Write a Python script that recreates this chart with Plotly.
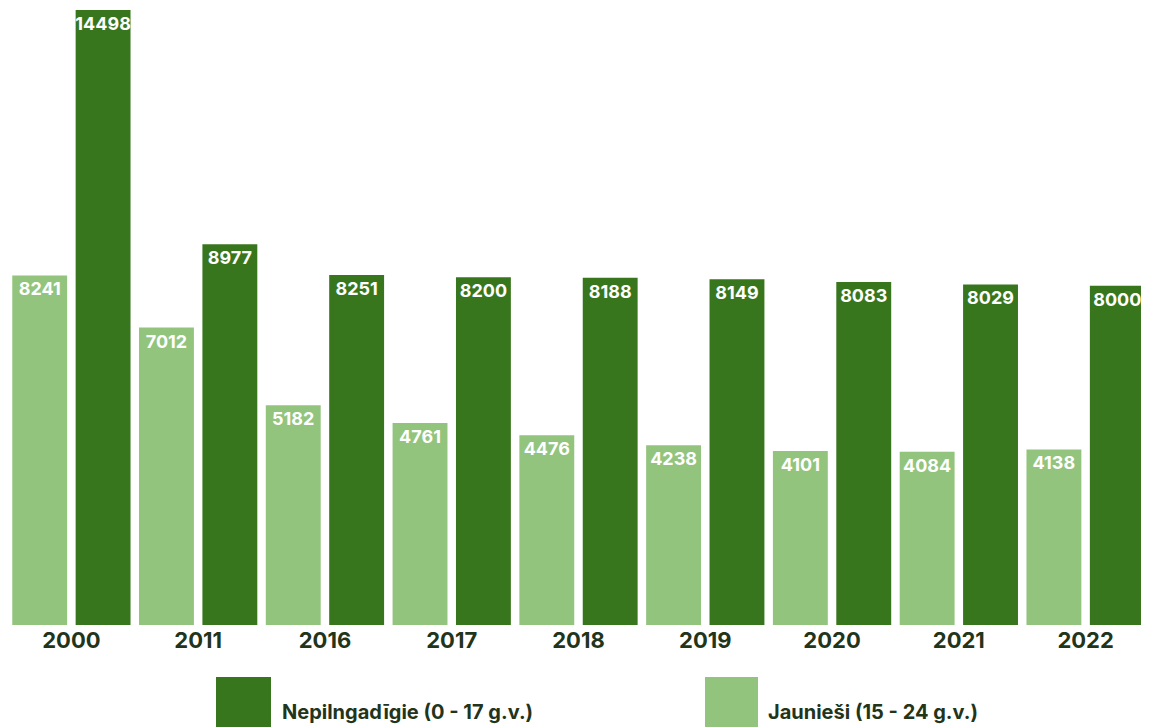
import plotly.graph_objects as go

years = ["2000", "2011", "2016", "2017", "2018", "2019", "2020", "2021", "2022"]
jaunesi = [8241, 7012, 5182, 4761, 4476, 4238, 4101, 4084, 4138]
nepilngadigie = [14498, 8977, 8251, 8200, 8188, 8149, 8083, 8029, 8000]
name_jaun = "Jaunieši (15 - 24 g.v.)"
name_nep = "Nepilngadīgie (0 - 17 g.v.)"

LIGHT = "#93c47d"
DARK = "#38761d"
TEXT = "#22341a"
FONT = "Inter"

fig = go.Figure()
for vals, name, col in [(jaunesi, name_jaun, LIGHT), (nepilngadigie, name_nep, DARK)]:
    fig.add_trace(go.Bar(
        x=years, y=vals, name=name, marker=dict(color=col, line=dict(width=0)),
        text=[str(v) for v in vals], textposition="inside", insidetextanchor="end",
        constraintext="none", textangle=0,
        textfont=dict(family=FONT, size=18, color="white", weight="bold"),
        hoverinfo="x+y+name",
    ))

fig.update_layout(
    width=1141, height=719,
    margin=dict(l=0, r=0, t=2, b=102),
    barmode="group", bargap=0.0, bargroupgap=0.134,
    plot_bgcolor="white", paper_bgcolor="white",
    showlegend=False,
    xaxis=dict(showgrid=False, showline=False, zeroline=False, ticks="",
               tickfont=dict(family=FONT, size=22, color=TEXT, weight="bold")),
    yaxis=dict(visible=False, range=[0, max(nepilngadigie)], showgrid=False, zeroline=False),
)

# legend drawn manually with large square swatches (page pixel coordinates)
def px_x(p):
    return (p - 8) / 1141

def px_y(p):
    return (625 - p) / 615

legend_items = [(name_nep, DARK, 216, 271, 280), (name_jaun, LIGHT, 705, 758, 766)]
for name, col, x0, x1, tx in legend_items:
    fig.add_shape(type="rect", xref="paper", yref="paper",
                  x0=px_x(x0), x1=px_x(x1), y0=px_y(677), y1=px_y(735),
                  fillcolor=col, line=dict(width=0), layer="above")
    fig.add_annotation(xref="paper", yref="paper", x=px_x(tx), y=px_y(712),
                       xanchor="left", yanchor="middle", showarrow=False, text=name,
                       font=dict(family=FONT, size=20, color=TEXT, weight="bold"))

fig.write_html("out.html")
